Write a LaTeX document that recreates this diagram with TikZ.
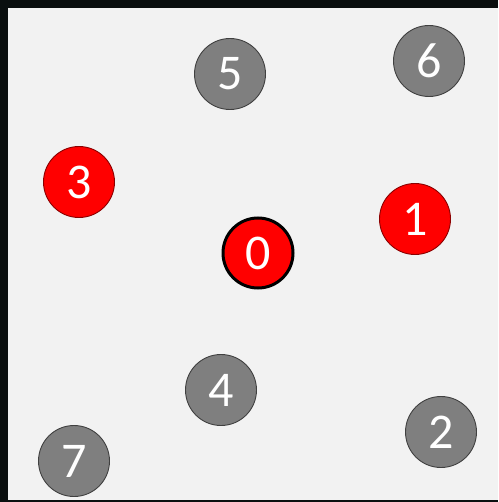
\documentclass[tikz,border=0pt]{standalone}
\usepackage{fontspec}
\setmainfont{Carlito}
\definecolor{panel}{HTML}{F2F2F2}
\definecolor{frame}{HTML}{0A0F0F}
\definecolor{greyfill}{HTML}{7F7F7F}
\definecolor{greyline}{HTML}{404040}
\definecolor{redline}{HTML}{8B0000}
\begin{document}
\begin{tikzpicture}[
  x=1pt, y=-1pt,
  every node/.style={inner sep=0pt, text=white, font=\fontsize{50}{50}\selectfont},
  idle/.style={circle, draw=greyline, fill=greyfill, line width=0.9pt, minimum size=71pt},
  hot/.style={circle, draw=redline, fill=red, line width=0.9pt, minimum size=71pt},
  home/.style={circle, draw=black, fill=red, line width=3pt, minimum size=70pt}]

  % ---- frame and panel ----------------------------------------------------
  \fill[frame] (0,0) rectangle (498,502);
  \fill[panel] (8,8) rectangle (498,500);
  \useasboundingbox (0,0) rectangle (498,502);

  % ---- nodes --------------------------------------------------------------
  % red ones
  \node[home] (n0) at (258,253) {0};
  \node[hot]  (n1) at (415,219) {1};
  \node[hot]  (n3) at (79,182)  {3};
  % grey ones
  \node[idle] (n2) at (441,432) {2};
  \node[idle] (n4) at (221,390) {4};
  \node[idle] (n5) at (230,74)  {5};
  \node[idle] (n6) at (429,61)  {6};
  \node[idle] (n7) at (74,461)  {7};
\end{tikzpicture}
\end{document}
